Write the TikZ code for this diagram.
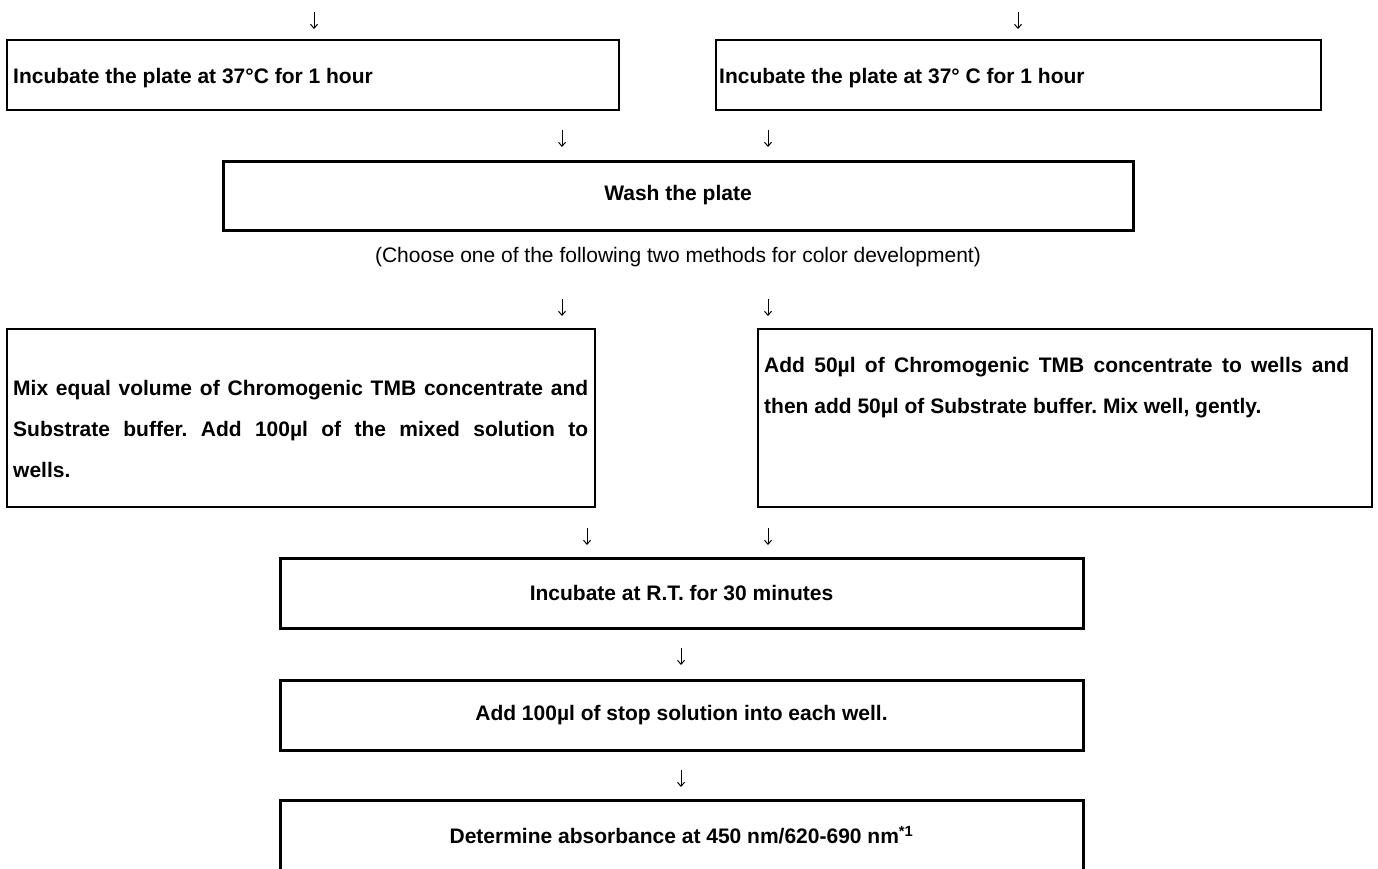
\documentclass[tikz,border=0pt]{standalone}
\usepackage{fontspec}
\setmainfont{Liberation Sans}
\usetikzlibrary{positioning,arrows.meta}
\frenchspacing

\tikzset{
  stepbox/.style={draw, line width=2pt, inner sep=0pt, minimum height=70pt,
    font=\fontsize{21}{41}\selectfont\bfseries},
  mainbox/.style={stepbox, line width=3pt, minimum width=803pt},
  steptext/.style={inner sep=0pt, align=justify,
    font=\fontsize{21}{41}\selectfont\bfseries},
  downarrow/.style={-{Straight Barb[length=4pt,width=7pt]}, line width=1pt}
}

\begin{document}
\begin{tikzpicture}[x=1pt, y=-1pt]
  \useasboundingbox (0,0) rectangle (1378,868);
  \clip (0,0) rectangle (1378,868);

  % two incubation branches
  \node[stepbox, minimum width=612pt] (inc1) at (313,75) {};
  \node[stepbox, minimum width=605pt] (inc2) at (1018.5,75) {};
  \node[steptext, anchor=base west] (inc1text) at (13,83)
    {Incubate the plate at 37\textdegree C for 1 hour};
  \node[steptext, anchor=base west] (inc2text) at (719,83)
    {Incubate the plate at 37\textdegree\ C for 1 hour};

  \node[stepbox, line width=3pt, minimum width=910pt, minimum height=69pt]
    (wash) at (678,195.5) {Wash the plate};
  \node[font=\fontsize{21}{25}\selectfont, inner sep=0pt] (choose) at (678,257)
    {(Choose one of the following two methods for color development)};

  % color development methods
  \node[stepbox, minimum width=588pt, minimum height=178pt] (mix) at (301,418) {};
  \node[stepbox, minimum width=614pt, minimum height=178pt] (addtmb) at (1065,418) {};
  \node[steptext, text width=575pt, anchor=base west] (mixtext) at (13,395)
    {Mix equal volume of Chromogenic TMB concentrate and\linebreak
     Substrate buffer. Add 100µl of the mixed solution to\linebreak
     wells.};
  \node[steptext, text width=585pt, anchor=base west] (addtext) at (764,372)
    {Add 50µl of Chromogenic TMB concentrate to wells and\linebreak
     then add 50µl of Substrate buffer. Mix well, gently.};

  \node[mainbox] (rt) at (681.5,593) {Incubate at R.T. for 30 minutes};
  \node[mainbox] (stop) at (681.5,715) {Add 100µl of stop solution into each well.};
  \node[mainbox] (det) at (681.5,835)
    {Determine absorbance at 450 nm/620-690 nm\textsuperscript{*1}};

  % down arrows
  \foreach \n/\x/\y in {a/314/12, b/1018/12, c/562/130, d/768/130,
                        e/562/299, f/768/299, g/587/528, h/768/528,
                        i/681/648, j/681/770} {
    \coordinate (\n top) at (\x,\y);
    \coordinate (\n bot) at (\x,\y+17);
    \draw[downarrow] (\n top) -- (\n bot);
  }
\end{tikzpicture}
\end{document}
